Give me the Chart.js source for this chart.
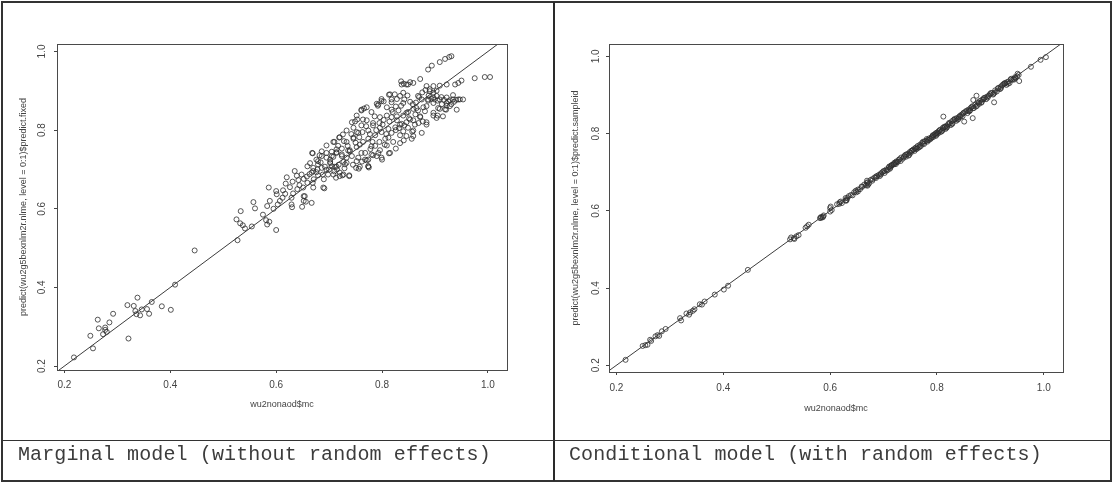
<!DOCTYPE html>
<html><head><meta charset="utf-8">
<script src="https://cdn.jsdelivr.net/npm/chart.js@4.4.1/dist/chart.umd.min.js"></script>
<style>
html,body{margin:0;padding:0;background:#fff;}
#page{position:relative;width:1113px;height:483px;overflow:hidden;background:#fff;}
.frame{position:absolute;left:1px;top:1px;width:1107px;height:477px;border:2px solid #333;}
.vline{position:absolute;left:553px;top:2px;width:2px;height:479px;background:#2a2a2a;}
.hline{position:absolute;left:2px;top:440px;width:1109px;height:1px;background:#333;}
.cap{position:absolute;top:443px;font-family:"Liberation Mono",monospace;font-size:20px;line-height:23px;letter-spacing:0.12px;color:#3c3c3c;white-space:pre;}
.pane{position:absolute;top:0;}
</style></head>
<body><div id="page">
<div class="pane" style="left:0px;"><canvas id="c1" width="553" height="440"></canvas></div>
<div class="pane" style="left:555px;"><canvas id="c2" width="556" height="440"></canvas></div>
<div class="frame"></div><div class="vline"></div><div class="hline"></div>
<div class="cap" id="cap1" style="left:18px;"></div>
<div class="cap" id="cap2" style="left:569px;"></div>
</div>
<script>
const xTicks = [0.2, 0.4, 0.6, 0.8, 1.0];
const yTicks = [0.2, 0.4, 0.6, 0.8, 1.0];
const refLine = [0.0, 1.2];
const xTitle = 'wu2nonaod$mc';
const yTitleLeft = 'predict(wu2g5bexnlm2r.nlme, level = 0:1)$predict.fixed';
const yTitleRight = 'predict(wu2g5bexnlm2r.nlme, level = 0:1)$predict.sampleid';
const captions = ['Marginal model (without random effects)', 'Conditional model (with random effects)'];

const marginalX = [
0.218,0.254,0.249,0.263,0.265,0.277,0.277,0.273,0.280,0.285,
0.292,0.321,0.319,0.331,0.338,0.334,0.336,0.343,0.346,0.356,
0.360,0.365,0.384,0.401,0.409,0.446,0.527,
0.525,0.532,0.537,0.541,0.533,0.554,0.557,0.560,0.581,0.583,
0.587,0.600,0.583,0.588,0.586,0.600,0.601,0.603,0.613,0.617,
0.618,0.620,0.629,0.629,0.630,0.632,0.635,0.631,0.639,0.642,
0.648,0.649,0.652,0.656,0.667,0.652,0.652,0.659,0.664,0.669,
0.670,0.671,0.676,0.670,0.679,0.688,0.691,0.686,0.695,0.698,
0.669,0.679,0.686,0.695,0.702,0.705,0.711,0.715,0.720,0.727,
0.714,0.724,0.738,0.751,0.730,0.733,0.743,0.752,0.761,0.768,
0.774,0.780,0.790,
0.654,0.651,0.659,0.658,0.667,0.670,0.668,0.676,0.679,0.689,
0.690,0.686,0.695,0.702,0.705,0.708,0.713,0.720,0.725,0.710,
0.719,0.714,0.724,0.733,0.738,0.739,0.746,0.746,0.755,0.749,
0.761,0.764,0.758,0.768,0.774,0.774,0.780,0.783,0.786,0.796,
0.801,0.793,0.799,0.805,0.812,0.815,0.818,0.818,0.815,0.824,
0.834,0.828,0.834,0.837,0.841,0.846,0.834,0.799,0.793,
0.931,0.927,0.919,0.909,0.894,0.887,0.872,0.859,0.849,0.975,
0.994,1.004,0.950,0.944,0.938,0.922,0.909,0.953,0.944,0.934,
0.928,0.928,0.922,0.919,0.909,0.903,0.897,0.890,0.887,0.897,
0.906,0.884,0.881,0.875,0.868,0.865,0.872,0.884,0.875,0.859,
0.856,0.853,0.846,0.840,0.840,0.862,0.897,0.903,0.915,0.849,
0.840,0.846,
0.857,0.841,0.826,0.813,0.800,0.775,0.756,0.941,0.921,0.905,
0.753,0.766,0.792,0.803,0.813,0.726,
0.774,0.783,0.796,0.809,0.818,0.828,0.840,0.849,0.859,0.868,
0.878,0.887,0.897,0.890,0.884,0.897,0.903,0.809,0.818,0.828,
0.799,0.790,0.780,0.771,0.761,0.752,0.746,0.733,0.724,0.714,
0.708,0.702,0.739,0.752,0.764,0.774,0.787,0.799,0.812,0.825,
0.837,0.846,0.859,0.872,0.834,0.821,0.809,0.796,0.783,0.771,
0.758,0.727,0.714,0.692,0.682,0.695,0.708,0.720,0.733,0.743,
0.752,0.761,0.771,0.836,0.853,0.922,0.934,0.859,0.884,0.897,
0.909,0.922,
0.705,0.717,0.728,0.735,0.742,0.750,0.757,0.763,0.770,0.777,
0.782,0.789,0.795,0.803,0.808,0.814,0.820,0.826,0.831,0.836,
0.842,0.848,0.853,0.858,0.864,0.870,0.876,0.882,0.888,0.893,
0.899,0.905,0.912,0.917,0.925,0.931,0.936,0.940,0.947,0.913,
0.700,0.710,0.718,0.729,0.736,0.745,0.755,0.762,0.778,0.787,
0.795,0.806,0.818,0.826,0.832,0.842,0.851,0.863,0.869,0.877,
0.678,0.684,0.663,0.644,0.626,0.612,0.607,0.595,0.575,0.640
];
const marginalY = [
0.222,0.245,0.277,0.318,0.296,0.298,0.292,0.281,0.287,0.311,
0.333,0.270,0.355,0.353,0.374,0.340,0.332,0.329,0.344,0.345,
0.333,0.363,0.352,0.343,0.407,0.494,0.520,
0.573,0.563,0.558,0.550,0.594,0.555,0.617,0.601,0.571,0.560,
0.567,0.546,0.607,0.620,0.654,0.645,0.637,0.611,0.647,0.638,
0.664,0.680,0.628,0.611,0.604,0.639,0.696,0.669,0.684,0.673,
0.687,0.605,0.620,0.618,0.615,0.632,0.676,0.708,0.716,0.666,
0.654,0.675,0.693,0.696,0.685,0.687,0.652,0.704,0.699,0.687,
0.741,0.721,0.734,0.730,0.716,0.734,0.707,0.700,0.692,0.687,
0.742,0.738,0.685,0.704,0.713,0.730,0.734,0.721,0.742,0.725,
0.708,0.738,0.734,
0.632,0.654,0.666,0.682,0.692,0.704,0.742,0.725,0.713,0.654,
0.675,0.746,0.742,0.725,0.708,0.687,0.679,0.683,0.685,0.770,
0.781,0.751,0.734,0.717,0.683,0.746,0.806,0.781,0.793,0.822,
0.852,0.827,0.763,0.742,0.725,0.708,0.759,0.818,0.835,0.806,
0.814,0.742,0.730,0.763,0.781,0.742,0.852,0.878,0.891,0.891,
0.887,0.835,0.814,0.916,0.918,0.916,0.767,0.874,0.865,
0.988,0.986,0.981,0.973,0.964,0.954,0.930,0.920,0.916,0.932,
0.935,0.935,0.926,0.920,0.916,0.916,0.913,0.878,0.878,0.878,
0.876,0.861,0.869,0.853,0.878,0.887,0.895,0.899,0.878,0.869,
0.856,0.861,0.848,0.878,0.887,0.856,0.835,0.814,0.793,0.785,
0.778,0.827,0.844,0.869,0.895,0.814,0.844,0.831,0.835,0.806,
0.797,0.785,
0.796,0.774,0.753,0.741,0.725,0.705,0.702,0.852,0.852,0.837,
0.827,0.855,0.862,0.873,0.890,0.789,
0.799,0.812,0.833,0.837,0.833,0.825,0.837,0.846,0.854,0.850,
0.858,0.875,0.883,0.904,0.912,0.912,0.900,0.858,0.871,0.879,
0.879,0.867,0.846,0.825,0.812,0.795,0.778,0.770,0.753,0.744,
0.732,0.719,0.749,0.757,0.770,0.778,0.787,0.795,0.803,0.807,
0.816,0.820,0.825,0.833,0.787,0.770,0.761,0.749,0.736,0.723,
0.707,0.719,0.707,0.707,0.736,0.761,0.770,0.782,0.799,0.820,
0.837,0.850,0.858,0.924,0.922,0.883,0.889,0.799,0.820,0.837,
0.854,0.862,
0.745,0.760,0.772,0.760,0.790,0.768,0.782,0.795,0.810,0.790,
0.770,0.800,0.818,0.826,0.790,0.822,0.846,0.860,0.850,0.862,
0.878,0.888,0.872,0.866,0.870,0.884,0.896,0.902,0.888,0.880,
0.878,0.875,0.884,0.877,0.873,0.866,0.872,0.877,0.878,0.866,
0.700,0.695,0.712,0.703,0.748,0.712,0.730,0.720,0.752,0.760,
0.770,0.778,0.793,0.800,0.805,0.812,0.830,0.840,0.818,0.822,
0.700,0.718,0.688,0.660,0.655,0.628,0.620,0.600,0.585,0.650
];

const conditionalX = [
0.217,0.249,0.254,0.258,0.263,0.265,0.273,0.277,0.280,0.285,
0.292,0.319,0.321,0.331,0.336,0.338,0.343,0.346,0.356,0.360,
0.365,0.384,0.401,0.409,0.446,0.527,0.525,0.532,0.537,0.541,
0.533,0.554,0.557,0.560,0.581,0.583,0.587,0.600,0.583,0.588,
0.586,0.600,0.601,0.603,0.613,0.617,0.618,0.620,0.629,0.629,
0.630,0.632,0.635,0.631,0.639,0.642,0.648,0.649,0.652,0.656,
0.667,0.652,0.659,0.664,0.669,0.670,0.671,0.676,0.670,0.679,
0.688,0.691,0.686,0.695,0.698,0.669,0.679,0.686,0.695,0.702,
0.705,0.711,0.715,0.720,0.727,0.714,0.724,0.738,0.751,0.730,
0.733,0.743,0.752,0.761,0.768,0.774,0.780,0.790,
0.708,0.713,0.720,0.725,0.710,0.719,0.739,0.746,0.755,0.749,
0.761,0.764,0.758,0.768,0.774,0.783,0.786,0.796,0.801,0.793,
0.799,0.805,0.812,0.815,0.818,0.824,0.834,0.828,0.837,0.841,
0.846,0.799,0.793,0.809,0.818,0.828,0.840,0.849,0.859,0.868,
0.878,0.887,0.897,0.890,0.884,0.903,0.909,0.919,0.927,0.931,
0.894,0.872,0.859,0.853,0.862,0.865,0.875,0.881,0.906,0.915,
0.922,0.928,0.934,0.938,0.944,0.950,0.953,
0.976,0.994,1.004,0.954,0.946,0.812,0.851,0.867,0.874,0.868,0.907,
0.702,0.712,0.722,0.732,0.742,0.748,0.756,0.763,0.770,0.777,
0.782,0.788,0.792,0.798,0.803,0.807,0.811,0.816,0.821,0.826,
0.831,0.836,0.843,0.848,0.855,0.861,0.867,0.873,0.879,0.885,
0.892,0.899,0.905,0.912,0.918,0.924,0.930,0.936,0.941,0.947,
0.700,0.706,0.716,0.723,0.729,0.736,0.741,0.747,0.753,0.759,
0.766,0.772,0.776,0.781,0.785,0.791,0.797,0.802,0.806,0.810,
0.814,0.819,0.823,0.829,0.833,0.839,0.844,0.850,0.857,0.863,
0.869,0.876,0.883,0.888,0.895,0.901,0.908,0.914,0.920,0.926,
0.933,0.939,0.945,0.951,0.660,0.673,0.683,0.693,0.645,0.622
];
const conditionalY = [
0.214,0.250,0.252,0.253,0.266,0.263,0.275,0.278,0.276,0.288,
0.294,0.322,0.316,0.334,0.331,0.337,0.341,0.345,0.358,0.357,
0.365,0.383,0.396,0.406,0.447,0.531,0.526,0.529,0.534,0.537,
0.527,0.556,0.560,0.564,0.581,0.582,0.585,0.598,0.584,0.588,
0.583,0.607,0.611,0.602,0.617,0.618,0.622,0.624,0.633,0.627,
0.626,0.633,0.638,0.628,0.641,0.640,0.652,0.648,0.655,0.656,
0.666,0.650,0.663,0.668,0.678,0.674,0.668,0.680,0.665,0.682,
0.690,0.693,0.689,0.697,0.700,0.672,0.678,0.685,0.694,0.703,
0.707,0.715,0.718,0.721,0.727,0.716,0.728,0.739,0.750,0.733,
0.738,0.746,0.755,0.764,0.766,0.774,0.781,0.789,
0.706,0.712,0.724,0.726,0.713,0.720,0.742,0.748,0.757,0.752,
0.760,0.768,0.755,0.771,0.779,0.784,0.788,0.797,0.803,0.791,
0.802,0.808,0.813,0.817,0.820,0.826,0.836,0.832,0.840,0.843,
0.849,0.797,0.796,0.806,0.815,0.825,0.838,0.852,0.858,0.866,
0.880,0.889,0.898,0.893,0.882,0.905,0.912,0.921,0.929,0.933,
0.896,0.875,0.862,0.856,0.860,0.869,0.872,0.885,0.903,0.918,
0.925,0.931,0.935,0.940,0.942,0.948,0.952,
0.973,0.991,0.998,0.936,0.946,0.844,0.831,0.840,0.898,0.887,0.881,
0.698,0.709,0.725,0.729,0.740,0.745,0.759,0.761,0.768,0.780,
0.779,0.786,0.795,0.794,0.806,0.804,0.815,0.812,0.824,0.822,
0.835,0.833,0.846,0.845,0.859,0.858,0.871,0.870,0.877,0.888,
0.889,0.902,0.901,0.909,0.915,0.927,0.926,0.931,0.939,0.944,
0.703,0.704,0.719,0.721,0.733,0.735,0.745,0.743,0.756,0.762,
0.764,0.776,0.773,0.786,0.783,0.792,0.800,0.800,0.810,0.808,
0.818,0.817,0.828,0.826,0.838,0.836,0.843,0.854,0.853,0.866,
0.866,0.881,0.880,0.892,0.893,0.905,0.906,0.917,0.918,0.930,
0.929,0.942,0.940,0.955,0.662,0.671,0.686,0.690,0.648,0.620
];

document.getElementById('cap1').textContent = captions[0];
document.getElementById('cap2').textContent = captions[1];

const boxPlugin = {
  id: 'rbox',
  afterDraw(chart) {
    const a = chart.chartArea, ctx = chart.ctx;
    ctx.save();
    ctx.strokeStyle = '#4a4a4a';
    ctx.lineWidth = 1;
    ctx.strokeRect(Math.round(a.left) + 0.5, Math.round(a.top) + 0.5,
                   Math.round(a.right - a.left), Math.round(a.bottom - a.top));
    ctx.restore();
  }
};

function makeChart(id, xs, ys, yTitle, cfg) {
  const pts = xs.map((x, i) => ({x: x, y: ys[i]}));
  const line = refLine.map(v => ({x: v, y: v}));
  const tickFont = {family: 'Liberation Sans', size: 10};
  const titleFont = {family: 'Liberation Sans', size: 9};
  return new Chart(document.getElementById(id), {
    type: 'scatter',
    data: {datasets: [
      {type: 'line', data: line, borderColor: '#3c3c3c', borderWidth: 1, pointRadius: 0, fill: false, tension: 0},
      {data: pts, pointRadius: 2.5, pointBorderWidth: 1, borderColor: 'rgba(45,45,45,0.8)',
       backgroundColor: 'rgba(0,0,0,0)', pointStyle: 'circle'}
    ]},
    options: {
      responsive: false, animation: false, devicePixelRatio: 1,
      layout: {padding: {left: 0, top: cfg.top, right: cfg.right, bottom: 0}},
      plugins: {legend: {display: false}, tooltip: {enabled: false}},
      scales: {
        x: {
          type: 'linear', min: cfg.xmin, max: cfg.xmax,
          afterBuildTicks: s => { s.ticks = xTicks.map(v => ({value: v})); },
          afterFit: s => { s.height = cfg.xh; },
          ticks: {callback: v => Number(v).toFixed(1), font: tickFont, color: '#444', padding: cfg.xpad, maxRotation: 0, autoSkip: false},
          grid: {display: true, drawOnChartArea: false, drawTicks: true, tickLength: 3, color: '#444'},
          border: {display: false},
          title: {display: true, text: xTitle, font: titleFont, color: '#444', padding: {top: 0, bottom: cfg.xtp}}
        },
        y: {
          type: 'linear', min: cfg.ymin, max: cfg.ymax,
          afterBuildTicks: s => { s.ticks = yTicks.map(v => ({value: v})); },
          afterFit: s => { s.width = cfg.yw; },
          ticks: {callback: v => Number(v).toFixed(1), font: tickFont, color: '#444', padding: cfg.ypad,
                  minRotation: 90, maxRotation: 90, crossAlign: 'center', autoSkip: false},
          grid: {display: true, drawOnChartArea: false, drawTicks: true, tickLength: 3, color: '#444'},
          border: {display: false},
          title: {display: true, text: yTitle, font: titleFont, color: '#444', padding: {top: cfg.ytp, bottom: 0}}
        }
      }
    },
    plugins: [boxPlugin]
  });
}

makeChart('c1', marginalX, marginalY, yTitleLeft,
  {top: 44, right: 46, xh: 70, yw: 57, xmin: 0.186, xmax: 1.036, ymin: 0.19, ymax: 1.019,
   xpad: 6.5, xtp: 29.6, ypad: 5, ytp: 18.6});
makeChart('c2', conditionalX, conditionalY, yTitleRight,
  {top: 44, right: 48, xh: 68, yw: 54, xmin: 0.186, xmax: 1.036, ymin: 0.1825, ymax: 1.032,
   xpad: 7.5, xtp: 25.6, ypad: 3, ytp: 15.6});
</script>
</body></html>
